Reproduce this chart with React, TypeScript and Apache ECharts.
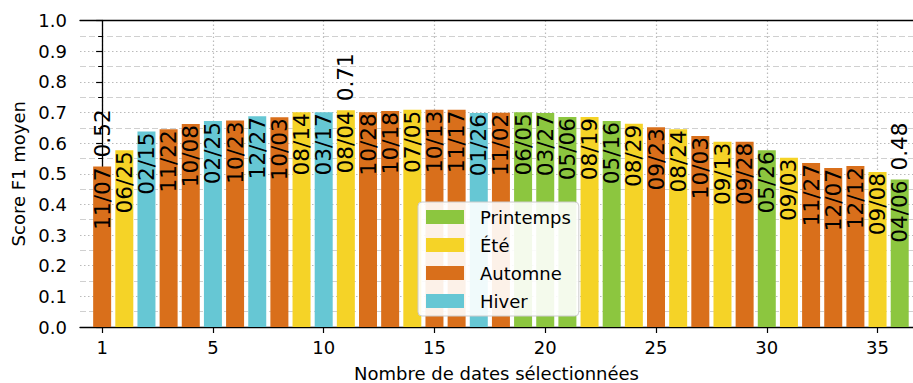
import React, { useEffect, useRef } from "react";
import * as echarts from "echarts";

const dates = ["11/07","06/25","02/15","11/22","10/08","02/25","10/23","12/27","10/03","08/14","03/17","08/04","10/28","10/18","07/05","10/13","11/17","01/26","11/02","06/05","03/27","05/06","08/19","05/16","08/29","09/23","08/24","10/03","09/13","09/28","05/26","09/03","11/27","12/07","12/12","09/08","04/06"];
const scores = [0.524,0.577,0.638,0.645,0.662,0.672,0.674,0.688,0.684,0.701,0.701,0.707,0.701,0.705,0.709,0.709,0.709,0.698,0.699,0.701,0.698,0.685,0.685,0.672,0.663,0.652,0.645,0.623,0.604,0.604,0.577,0.552,0.535,0.519,0.525,0.506,0.481];
const dateSeasons = ["Automne","Été","Hiver","Automne","Automne","Hiver","Automne","Hiver","Automne","Été","Hiver","Été","Automne","Automne","Été","Automne","Automne","Hiver","Automne","Printemps","Printemps","Printemps","Été","Printemps","Été","Automne","Été","Automne","Été","Automne","Printemps","Été","Automne","Automne","Automne","Été","Printemps"];
const seasons = ["Printemps","Été","Automne","Hiver"];
const seasonColors = ["#8cc63f","#f5d327","#d96f1b","#66c7d4"];
const annotatedIndices = [0, 11, 36];
const xTickValues = [0,5,10,15,20,25,30,35];
const xTickLabels = ["1","5","10","15","20","25","30","35"];

const FONT = "DejaVu Sans";

export default function App() {
  const ref = useRef<HTMLDivElement>(null);
  useEffect(() => {
    if (!ref.current) return;
    const chart = echarts.init(ref.current, null, { renderer: "svg" });
    const barSeries = seasons.map((s, k) => ({
      type: "bar",
      name: s,
      barWidth: 18,
      barGap: "-100%",
      z: 2,
      itemStyle: { color: seasonColors[k] },
      data: dates
        .map((_, i) => (dateSeasons[i] === s ? [i, scores[i]] : null))
        .filter((d) => d !== null),
      label: {
        show: true,
        position: "insideTop",
        distance: 1,
        rotate: 90,
        align: "right",
        verticalAlign: "middle",
        fontSize: 21.6,
        fontFamily: FONT,
        color: "#000",
        formatter: (p: any) => dates[p.value[0]],
      },
    }));
    const annotSeries = {
      type: "custom",
      name: "annot",
      z: 3,
      silent: true,
      data: annotatedIndices.map((i) => [i, scores[i]]),
      renderItem: (params: any, api: any) => {
        const v = api.value(1);
        const p = api.coord([api.value(0), v]);
        return {
          type: "text",
          x: p[0],
          y: p[1] - 9,
          rotation: Math.PI / 2,
          style: {
            text: v.toFixed(2),
            align: "left",
            verticalAlign: "middle",
            fontSize: 21.6,
            fontFamily: FONT,
            fill: "#000",
          },
        };
      },
    };
    const option: any = {
      animation: false,
      textStyle: { fontFamily: FONT },
      grid: { left: 80, right: 0, top: 20.5, bottom: 56, containLabel: false, outerBoundsMode: "none" },
      legend: {
        data: seasons,
        orient: "vertical",
        left: 418,
        top: 202,
        icon: "rect",
        itemWidth: 38,
        itemHeight: 14,
        itemGap: 10,
        padding: [6, 8, 6, 8],
        backgroundColor: "rgba(255,255,255,0.9)",
        borderColor: "#cccccc",
        borderWidth: 1,
        borderRadius: 4,
        textStyle: { fontSize: 18, fontFamily: FONT, color: "#000", padding: [0, 0, 0, 11] },
      },
      xAxis: [
        {
          type: "value",
          min: -1,
          max: 36.6,
          splitNumber: 8,
          position: "bottom",
          name: "Nombre de dates sélectionnées",
          nameLocation: "middle",
          nameGap: 37,
          nameTextStyle: { fontSize: 18, fontFamily: FONT, color: "#000" },
          axisLine: { show: true, onZero: false, lineStyle: { color: "#000", width: 1.3 } },
          axisTick: { show: true, length: 6, customValues: xTickValues, lineStyle: { color: "#000", width: 1.2 } },
          axisLabel: {
            customValues: xTickValues,
            fontSize: 18,
            fontFamily: FONT,
            color: "#000",
            margin: 11,
            formatter: (v: number) => xTickLabels[xTickValues.indexOf(v)] ?? "",
          },
          splitLine: { show: true, lineStyle: { type: [1.5, 2.5], color: "#bbbbbb", width: 1.2 } },
        },
        {
          type: "value",
          min: -1,
          max: 36.6,
          position: "top",
          axisLine: { show: true, onZero: false, lineStyle: { color: "#000", width: 1.3 } },
          axisTick: { show: false },
          axisLabel: { show: false },
          splitLine: { show: false },
        },
      ],
      yAxis: {
        type: "value",
        min: 0,
        max: 1,
        interval: 0.1,
        name: "Score F1 moyen",
        nameLocation: "middle",
        nameGap: 51,
        nameTextStyle: { fontSize: 18, fontFamily: FONT, color: "#000" },
        axisLine: { show: true, lineStyle: { color: "#000", width: 1.3 } },
        axisTick: { show: true, length: 6, lineStyle: { color: "#000", width: 1.2 } },
        minorTick: { show: true, splitNumber: 2, length: 4, lineStyle: { color: "#000", width: 1 } },
        axisLabel: {
          fontSize: 18,
          fontFamily: FONT,
          color: "#000",
          margin: 13,
          formatter: (v: number) => v.toFixed(1),
        },
        splitLine: { show: true, lineStyle: { type: [1.5, 2.5], color: "#bbbbbb", width: 1.2 } },
        minorSplitLine: { show: true, lineStyle: { type: [6, 3], color: "#d0d0d0", width: 1.2 } },
      },
      series: [...barSeries, annotSeries],
    };
    chart.setOption(option);
    return () => chart.dispose();
  }, []);
  return (
    <div
      ref={ref}
      style={{ position: "absolute", left: 0, top: 0, width: 913, height: 383, background: "#fff" }}
    />
  );
}
